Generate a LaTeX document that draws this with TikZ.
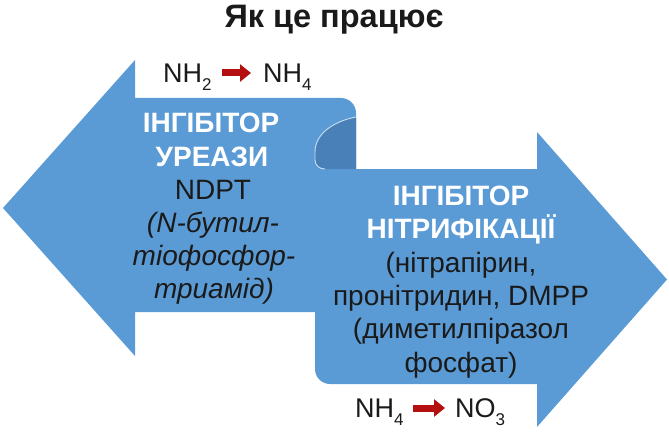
\documentclass[tikz,border=0pt]{standalone}
\usepackage{fontspec}
\setmainfont{Liberation Sans}
\usetikzlibrary{arrows.meta}
\definecolor{arrowblue}{HTML}{5B9BD5}
\definecolor{curlblue}{HTML}{4A80B8}
\definecolor{curledge}{HTML}{C8DEF2}
\definecolor{darkred}{HTML}{B3100F}
\definecolor{ink}{HTML}{1A1A1A}
\newcommand\chemsub[1]{\raisebox{-8pt}{\fontsize{17}{17}\selectfont #1}}
\begin{document}
\begin{tikzpicture}[x=1pt,y=-1pt,
  lbl/.style={anchor=base, inner sep=0pt, text=ink, font=\fontsize{28}{33}\selectfont},
  headtxt/.style={anchor=base, inner sep=0pt, text=white, font=\fontsize{28}{33}\selectfont\bfseries},
  itxt/.style={anchor=base, inner sep=0pt, text=ink, font=\fontsize{28}{33}\selectfont\itshape},
  chem/.style={anchor=base west, inner sep=0pt, text=ink, font=\fontsize{27}{30}\selectfont},
  redarr/.style={darkred, line width=7pt, -{Triangle[length=11pt,width=17pt]}},
]
\useasboundingbox (0,0) rectangle (669,433);
% left arrow
\fill[arrowblue] (3,208) -- (135,60) -- (135,98) -- (341,98)
  .. controls (349.3,98) and (356,104.7) .. (356,113) -- (356,312)
  -- (135,312) -- (135,356) -- cycle;
% right arrow
\fill[arrowblue] (315,169) -- (537,169) -- (537,132) -- (667,279.5)
  -- (537,427) -- (537,384) -- (330,384)
  .. controls (321.7,384) and (315,377.3) .. (315,369) -- cycle;
% curl
\fill[curlblue] (356,117) .. controls (335,121) and (315,133) .. (315,152)
  -- (315,160) .. controls (315,165) and (319,169) .. (325,169)
  -- (356,169) -- cycle;
\draw[curledge, line width=0.9pt] (356,117) .. controls (335,121) and (315,133) .. (315,152)
  -- (315,160) .. controls (315,165) and (319,169) .. (325,169);
% title
\node[anchor=base, inner sep=0pt, text=ink, font=\fontsize{32.5}{32.5}\selectfont\bfseries] (title) at (334,28) {Як це працює};
% top chemistry
\node[chem] (nh2) at (163,83) {NH\chemsub{2}};
\node[chem] (nh4a) at (263,83) {NH\chemsub{4}};
\coordinate (a1s) at (222,73);
\coordinate (a1e) at (251,73);
\draw[redarr] (a1s) -- (a1e);
% bottom chemistry
\node[chem] (nh4b) at (355,417) {NH\chemsub{4}};
\node[chem] (no3) at (455,417) {NO\chemsub{3}};
\coordinate (a2s) at (413,408);
\coordinate (a2e) at (445,408);
\draw[redarr] (a2s) -- (a2e);
% left text
\node[headtxt] (l1) at (211,132) {ІНГІБІТОР};
\node[headtxt] (l2) at (212,166) {УРЕАЗИ};
\node[lbl] (l3) at (213,199) {NDPT};
\node[itxt] (l4) at (213,232) {(N-бутил-};
\node[itxt] (l5) at (214,265) {тіофосфор-};
\node[itxt] (l6) at (214,298) {триамід)};
% right text
\node[headtxt] (r1) at (461,205) {ІНГІБІТОР};
\node[headtxt] (r2) at (461,238) {НІТРИФІКАЦІЇ};
\node[lbl] (r3) at (461,272) {(нітрапірин,};
\node[lbl] (r4) at (461,305) {пронітридин, DMPP};
\node[lbl] (r5) at (461,338) {(диметилпіразол};
\node[lbl] (r6) at (461,372) {фосфат)};
\end{tikzpicture}
\end{document}
